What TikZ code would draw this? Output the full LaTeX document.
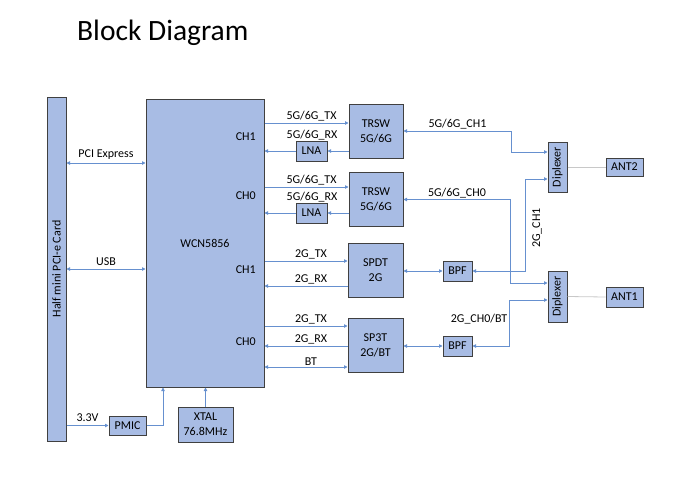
\documentclass[tikz,border=0pt]{standalone}
\usepackage{fontspec}
\setmainfont{Carlito}
\usetikzlibrary{arrows.meta}
\definecolor{boxfill}{HTML}{A8BCE4}
\definecolor{boxline}{HTML}{404040}
\definecolor{sigline}{HTML}{6690CF}
\definecolor{antline}{HTML}{C8C8C8}

\begin{document}
\begin{tikzpicture}[x=1pt, y=-1pt,
  blk/.style={draw=boxline, fill=boxfill, line width=1pt, inner sep=1pt, align=center, font=\fontsize{12}{15}\selectfont},
  sw/.style={blk, minimum width=54pt, minimum height=54pt},
  sm/.style={blk, minimum width=31pt, minimum height=20pt},
  dip/.style={blk, minimum width=19pt, minimum height=50pt},
  sig/.style={draw=sigline, line width=0.9pt, >={Triangle[length=3.5pt,width=3.5pt]}},
  ant/.style={draw=antline, line width=0.8pt},
  lbl/.style={font=\fontsize{12}{14}\selectfont, inner sep=1pt}]
  \useasboundingbox (0,0) rectangle (682,490);

  \node[lbl, anchor=base west, font=\fontsize{29.5}{34}\selectfont] (title) at (76,40) {Block Diagram};

  \node[blk, minimum width=19pt, minimum height=344pt] (card) at (56.5,269) {};
  \node[lbl, rotate=90] at (card) {Half mini PCI-e Card};
  \node[blk, minimum width=118pt, minimum height=288pt] (wcn) at (205,243) {WCN5856};
  \node[lbl, anchor=east] at (257,137) {CH1};
  \node[lbl, anchor=east] at (257,196) {CH0};
  \node[lbl, anchor=east] at (257,270) {CH1};
  \node[lbl, anchor=east] at (257,342) {CH0};

  \node[sw] (trsw1) at (376,131) {TRSW\\5G/6G};
  \node[sw] (trsw2) at (376,199.5) {TRSW\\5G/6G};
  \node[sw, minimum width=55pt] (spdt) at (375.5,270.5) {SPDT\\2G};
  \node[sw, minimum width=55pt] (sp3t) at (375.5,345.5) {SP3T\\2G/BT};
  \node[sm] (lna1) at (311.5,151) {LNA};
  \node[sm] (lna2) at (311.5,213) {LNA};
  \node[sm, minimum width=29pt] (bpf1) at (457.5,271) {BPF};
  \node[sm, minimum width=29pt] (bpf2) at (457.5,346) {BPF};
  \node[dip] (dip1) at (557.5,167) {};
  \node[lbl, rotate=90] at (dip1) {Diplexer};
  \node[dip, minimum height=51pt] (dip2) at (557.5,296.5) {};
  \node[lbl, rotate=90] at (dip2) {Diplexer};
  \node[sm, minimum width=37pt, minimum height=18pt] (ant2) at (624.5,167) {ANT2};
  \node[sm, minimum width=37pt] (ant1) at (624.5,297) {ANT1};
  \node[sm, minimum width=37pt, minimum height=19pt] (pmic) at (127.5,425.5) {PMIC};
  \node[blk, minimum width=55pt, minimum height=35pt] (xtal) at (205.5,424.5) {XTAL\\76.8MHz};

  \draw[sig,<->] (card.east |- 0,163) -- node[lbl,above=2pt] {PCI Express} (wcn.west |- 0,163);
  \draw[sig,<->] (card.east |- 0,269) -- node[lbl,above=2pt] {USB} (wcn.west |- 0,269);
  \draw[sig,->] (card.east |- pmic.west) -- node[lbl,above=2pt] {3.3V} (pmic.west);
  \draw[sig,->] (pmic.east) -| ([xshift=-42pt]wcn.south);
  \draw[sig,->] (xtal.north) -- (xtal.north |- wcn.south);

  \draw[sig,->] (wcn.east |- 0,123) -- node[lbl,above,pos=0.56] {5G/6G\_TX} (trsw1.west |- 0,123);
  \draw[sig,->] (trsw1.west |- lna1.east) -- (lna1.east);
  \draw[sig,->] (lna1.west) -- (wcn.east |- lna1.west);
  \node[lbl] at (312,135) {5G/6G\_RX};
  \draw[sig,->] (wcn.east |- 0,187) -- node[lbl,above,pos=0.56] {5G/6G\_TX} (trsw2.west |- 0,187);
  \draw[sig,->] (trsw2.west |- lna2.east) -- (lna2.east);
  \draw[sig,->] (lna2.west) -- (wcn.east |- lna2.west);
  \node[lbl] at (312,197) {5G/6G\_RX};

  \draw[sig,->] (wcn.east |- 0,261) -- node[lbl,above,pos=0.56] {2G\_TX} (spdt.west |- 0,261);
  \draw[sig,->] (spdt.west |- 0,286) -- node[lbl,above,pos=0.44] {2G\_RX} (wcn.east |- 0,286);
  \draw[sig,->] (wcn.east |- 0,326) -- node[lbl,above,pos=0.56] {2G\_TX} (sp3t.west |- 0,326);
  \draw[sig,->] (sp3t.west |- 0,346) -- node[lbl,above,pos=0.44] {2G\_RX} (wcn.east |- 0,346);
  \draw[sig,<->] (wcn.east |- 0,367) -- node[lbl,above,pos=0.56] {BT} (sp3t.west |- 0,367);

  \draw[sig,<->] (spdt.east |- bpf1.west) -- (bpf1.west);
  \draw[sig,<->] (sp3t.east |- bpf2.west) -- (bpf2.west);
  \draw[sig,<->] (trsw1.east) -- node[lbl,above] {5G/6G\_CH1} ++(108,0) |- ([yshift=15pt]dip1.west);
  \draw[sig,<->] (trsw2.east) -- node[lbl,above] {5G/6G\_CH0} ++(107,0) |- ([yshift=13.5pt]dip2.west);
  \draw[sig,<->] (bpf1.east) -- ++(53,0) |- ([yshift=-12pt]dip1.west);
  \node[lbl, rotate=90] at (537,228) {2G\_CH1};
  \draw[sig,<->] (bpf2.east) -- ++(37,0) |- ([yshift=-3.5pt]dip2.west);
  \node[lbl] at (479,319) {2G\_CH0/BT};
  \draw[ant] (dip1.east) -- (ant2.west);
  \draw[ant] (dip2.east) -- (ant1.west);
\end{tikzpicture}
\end{document}
